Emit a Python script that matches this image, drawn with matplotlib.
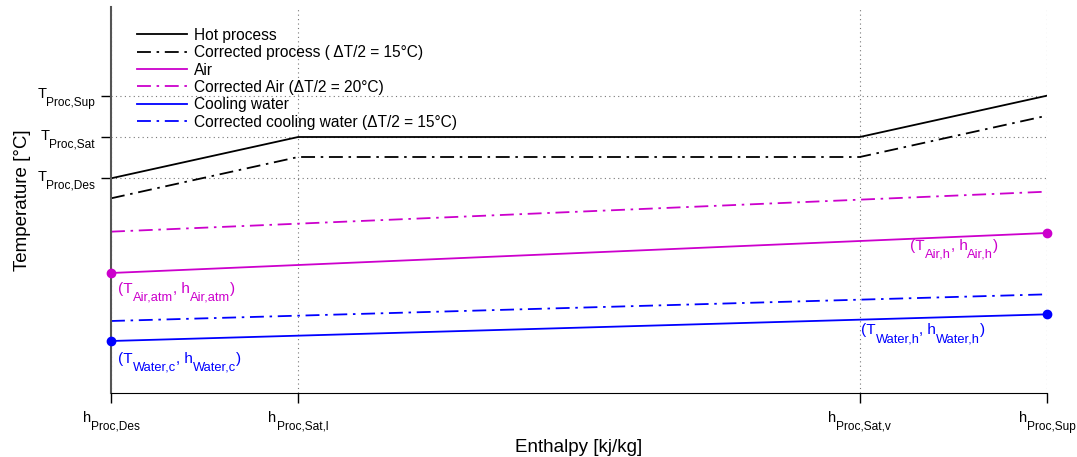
import matplotlib
matplotlib.use('Agg')
import matplotlib.pyplot as plt
from matplotlib.offsetbox import TextArea, HPacker, VPacker, DrawingArea, AnnotationBbox

plt.rcParams['font.family'] = ['Liberation Sans', 'DejaVu Sans']

# enthalpy positions (arbitrary units) and labels (main letter, subscript)
h_pts = [0, 20, 80, 100]
h_labels = [('h', 'Proc,Des'), ('h', 'Proc,Sat,l'), ('h', 'Proc,Sat,v'), ('h', 'Proc,Sup')]

# process curves
T_hot = [161, 192, 192, 223]
T_hot_corr = [146, 177, 177, 208]
T_ticks = [161, 192, 223]
T_labels = [('T', 'Proc,Des'), ('T', 'Proc,Sat'), ('T', 'Proc,Sup')]

# air and cooling water (start / end)
h_util = [0, 100]
T_air = [90, 120]
T_air_corr = [121, 151]
T_water = [39, 59]
T_water_corr = [54, 74]

mag = '#cc00cc'
blu = '#0000ff'
dd = (7.7, 3.15, 1.4, 3.15)


def rich(parts, fs, sfs, drop, color='k'):
    # text with big, lowered subscripts: parts = [(text, is_sub), ...]
    kids = []
    for txt, is_sub in parts:
        ta = TextArea(txt, textprops=dict(fontsize=sfs if is_sub else fs, color=color))
        if not is_sub:
            ta = VPacker(children=[ta, DrawingArea(0, drop)], sep=0, pad=0, align='left')
        kids.append(ta)
    return HPacker(children=kids, sep=0, pad=0, align='bottom')


def put(ax, box, xy, off, align, coords='data'):
    ab = AnnotationBbox(box, xy, xycoords=coords, xybox=off, boxcoords='offset points',
                        box_alignment=align, frameon=False, pad=0, annotation_clip=False)
    ax.add_artist(ab)


fig = plt.figure(figsize=(10.77, 4.57), dpi=100)
ax = fig.add_axes([111 / 1077, 64 / 457, 936 / 1077, 386 / 457])

ax.plot(h_pts, T_hot, color='k', lw=1.3, label='Hot process')
ax.plot(h_pts, T_hot_corr, color='k', lw=1.3, dashes=dd, label='Corrected process ( ΔT/2 = 15°C)')
ax.plot(h_util, T_air, color=mag, lw=1.3, label='Air')
ax.plot(h_util, T_air_corr, color=mag, lw=1.3, dashes=dd, label='Corrected Air (ΔT/2 = 20°C)')
ax.plot(h_util, T_water, color=blu, lw=1.3, label='Cooling water')
ax.plot(h_util, T_water_corr, color=blu, lw=1.3, dashes=dd, label='Corrected cooling water (ΔT/2 = 15°C)')

ax.plot(h_util, T_air, 'o', color=mag, ms=6, clip_on=False, zorder=5)
ax.plot(h_util, T_water, 'o', color=blu, ms=6, clip_on=False, zorder=5)

# point labels
def pt_label(a, b, color):
    return rich([('(T', False), (a, True), (', h', False), (b, True), (')', False)], 11, 9.3, 5.5, color)

put(ax, pt_label('Air,atm', 'Air,atm', mag), (h_util[0], T_air[0]), (5, -6.5), (0, 1))
put(ax, pt_label('Air,h', 'Air,h', mag), (h_util[1], T_air[1]), (-35, -4.5), (1, 1))
put(ax, pt_label('Water,c', 'Water,c', blu), (h_util[0], T_water[0]), (5, -8), (0, 1))
put(ax, pt_label('Water,h', 'Water,h', blu), (h_util[1], T_water[1]), (-44.5, -6.5), (1, 1))

ax.set_xlim(0, 100)
ax.set_ylim(0, 289.5)
ax.set_xticks(h_pts)
ax.set_xticklabels([''] * len(h_pts))
ax.set_yticks(T_ticks)
ax.set_yticklabels([''] * len(T_ticks))
ax.tick_params(direction='out', length=7, width=1, pad=5)

# tick labels with subscripts
for x, (m, s) in zip(h_pts, h_labels):
    put(ax, rich([(m, False), (s, True)], 10.5, 8.6, 5.5), (x, 0), (0, -13), (0.5, 1),
        coords=('data', 'axes fraction'))
for y, (m, s) in zip(T_ticks, T_labels):
    put(ax, rich([(m, False), (s, True)], 10.5, 8.6, 5.5), (0, y), (-11.5, 6), (1, 1),
        coords=('axes fraction', 'data'))

ax.grid(True, linestyle=(0, (1, 3)), color='#777777', lw=0.8)
ax.spines['top'].set_visible(False)
ax.spines['right'].set_visible(False)
ax.spines['left'].set_color('#555555')
ax.spines['left'].set_linewidth(1.5)

ax.set_xlabel('Enthalpy [kj/kg]', fontsize=13.5)
ax.set_ylabel('Temperature [°C]', fontsize=13.5)
ax.xaxis.set_label_coords(0.5, -0.118)
ax.yaxis.set_label_coords(-0.085, 0.5)

ax.legend(loc='upper left', bbox_to_anchor=(0.0213, 0.962), frameon=False, fontsize=11.2,
          handlelength=3.2, labelspacing=0.15, handletextpad=0.45, borderaxespad=0)

fig.savefig('out.png', dpi=100)
